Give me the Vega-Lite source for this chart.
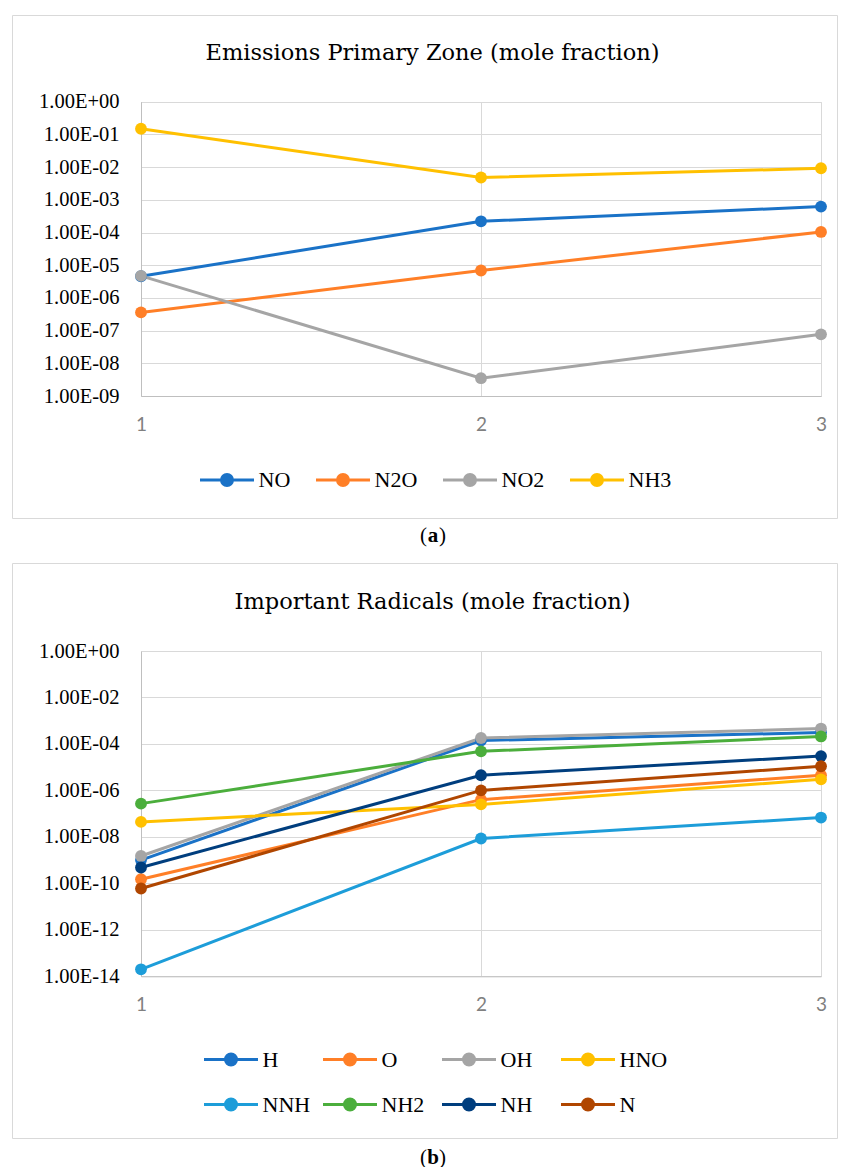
{
  "$schema": "https://vega.github.io/schema/vega-lite/v6.json",
  "padding": {"left": 11, "top": 14, "right": 0, "bottom": 0},
  "background": "white",
  "spacing": 0,
  "resolve": {"scale": {"stroke": "independent", "fill": "independent", "x": "independent", "y": "independent"}, "legend": {"stroke": "independent", "fill": "independent"}},
  "vconcat": [
    {
      "width": 825,
      "height": 503,
      "title": {"text": "Emissions Primary Zone (mole fraction)", "offset": -49, "dx": 8},
      "data": {"values": [
        {"series": "NO", "point": 1, "value": 4.6e-6},
        {"series": "NO", "point": 2, "value": 2.2e-4},
        {"series": "NO", "point": 3, "value": 6.2e-4},
        {"series": "N2O", "point": 1, "value": 3.6e-7},
        {"series": "N2O", "point": 2, "value": 6.9e-6},
        {"series": "N2O", "point": 3, "value": 1.04e-4},
        {"series": "NO2", "point": 1, "value": 4.7e-6},
        {"series": "NO2", "point": 2, "value": 3.5e-9},
        {"series": "NO2", "point": 3, "value": 7.7e-8},
        {"series": "NH3", "point": 1, "value": 0.149},
        {"series": "NH3", "point": 2, "value": 4.8e-3},
        {"series": "NH3", "point": 3, "value": 9.2e-3}
      ]},
      "resolve": {"axis": {"x": "independent"}},
      "encoding": {
        "y": {"field": "value", "type": "quantitative",
          "scale": {"type": "log", "domain": [1e-9, 1], "range": [381, 86.7], "nice": false},
          "axis": {"values": [1e-9, 1e-8, 1e-7, 1e-6, 1e-5, 1e-4, 1e-3, 1e-2, 1e-1, 1], "tickCount": 20, "offset": -129, "orient": "left"}}
      },
      "layer": [
        {"mark": {"type": "line", "strokeWidth": 3, "opacity": 1},
         "encoding": {
           "x": {"field": "point", "type": "ordinal",
             "scale": {"type": "point", "domain": [1, 2, 3], "range": [129, 809], "padding": 0},
             "axis": {"orient": "bottom", "offset": -122, "labelAngle": 0, "grid": false}},
           "stroke": {"field": "series", "type": "nominal", "sort": null,
           "scale": {"domain": ["NO", "N2O", "NO2", "NH3"], "range": ["#1A72C7", "#FF7F27", "#A5A5A5", "#FFC000"]},
           "legend": {"orient": "none", "legendX": 188, "legendY": 451.5, "direction": "horizontal", "columns": 4, "columnPadding": 19}}}},
        {"mark": {"type": "point", "filled": true, "size": 140, "opacity": 1},
         "encoding": {
           "x": {"field": "point", "type": "ordinal",
             "scale": {"type": "point", "domain": [1, 2, 3], "range": [129, 809], "padding": 0},
             "axis": {"orient": "top", "offset": -86.7, "labels": false, "domain": false, "ticks": false, "grid": true}},
           "fill": {"field": "series", "type": "nominal", "sort": null,
           "scale": {"domain": ["NO", "N2O", "NO2", "NH3"], "range": ["#1A72C7", "#FF7F27", "#A5A5A5", "#FFC000"]},
           "legend": {"orient": "none", "legendX": 188, "legendY": 451.5, "direction": "horizontal", "columns": 4, "columnPadding": 19}}}}
      ]
    },
    {
      "width": 825,
      "height": 43,
      "view": {"stroke": null},
      "data": {"values": [{"open": "(", "letter": "a", "close": ")"}]},
      "layer": [
        {"mark": {"type": "text", "align": "right", "dx": 2.5, "dy": -5, "fontWeight": "normal"}, "encoding": {"text": {"field": "open"}}},
        {"mark": {"type": "text", "align": "center", "dx": 8.5, "dy": -5, "fontWeight": "bold"}, "encoding": {"text": {"field": "letter"}}},
        {"mark": {"type": "text", "align": "left", "dx": 14.5, "dy": -5, "fontWeight": "normal"}, "encoding": {"text": {"field": "close"}}}
      ]
    },
    {
      "width": 825,
      "height": 575,
      "title": {"text": "Important Radicals (mole fraction)", "offset": -50, "dx": 8},
      "data": {"values": [
        {"series": "H", "point": 1, "value": 1.0e-9},
        {"series": "H", "point": 2, "value": 1.4e-4},
        {"series": "H", "point": 3, "value": 3.1e-4},
        {"series": "O", "point": 1, "value": 1.5e-10},
        {"series": "O", "point": 2, "value": 4.0e-7},
        {"series": "O", "point": 3, "value": 4.5e-6},
        {"series": "OH", "point": 1, "value": 1.5e-9},
        {"series": "OH", "point": 2, "value": 1.8e-4},
        {"series": "OH", "point": 3, "value": 4.6e-4},
        {"series": "HNO", "point": 1, "value": 4.4e-8},
        {"series": "HNO", "point": 2, "value": 2.5e-7},
        {"series": "HNO", "point": 3, "value": 3.0e-6},
        {"series": "NNH", "point": 1, "value": 2.0e-14},
        {"series": "NNH", "point": 2, "value": 8.5e-9},
        {"series": "NNH", "point": 3, "value": 6.8e-8},
        {"series": "NH2", "point": 1, "value": 2.7e-7},
        {"series": "NH2", "point": 2, "value": 4.8e-5},
        {"series": "NH2", "point": 3, "value": 2.1e-4},
        {"series": "NH", "point": 1, "value": 4.8e-10},
        {"series": "NH", "point": 2, "value": 4.5e-6},
        {"series": "NH", "point": 3, "value": 3.0e-5},
        {"series": "N", "point": 1, "value": 6.0e-11},
        {"series": "N", "point": 2, "value": 1.0e-6},
        {"series": "N", "point": 3, "value": 1.1e-5}
      ]},
      "resolve": {"axis": {"x": "independent"}},
      "encoding": {
        "y": {"field": "value", "type": "quantitative",
          "scale": {"type": "log", "domain": [1e-14, 1], "range": [413.3, 88], "nice": false},
          "axis": {"values": [1e-14, 1e-12, 1e-10, 1e-8, 1e-6, 1e-4, 1e-2, 1], "tickCount": 20, "offset": -129, "orient": "left"}}
      },
      "layer": [
        {"mark": {"type": "line", "strokeWidth": 3, "opacity": 1},
         "encoding": {
           "x": {"field": "point", "type": "ordinal",
             "scale": {"type": "point", "domain": [1, 2, 3], "range": [129, 809], "padding": 0},
             "axis": {"orient": "bottom", "offset": -161.7, "labelAngle": 0, "grid": false}},
           "stroke": {"field": "series", "type": "nominal", "sort": null,
           "scale": {"domain": ["H", "O", "OH", "HNO", "NNH", "NH2", "NH", "N"], "range": ["#1A72C7", "#FF7F27", "#A5A5A5", "#FFC000", "#1D9DD9", "#4BAE3C", "#003E7E", "#B04600"]},
           "legend": {"orient": "none", "legendX": 192, "legendY": 483, "direction": "horizontal", "columns": 4, "columnPadding": 6, "rowPadding": 20, "gridAlign": "all"}}}},
        {"mark": {"type": "point", "filled": true, "size": 140, "opacity": 1},
         "encoding": {
           "x": {"field": "point", "type": "ordinal",
             "scale": {"type": "point", "domain": [1, 2, 3], "range": [129, 809], "padding": 0},
             "axis": {"orient": "top", "offset": -88, "labels": false, "domain": false, "ticks": false, "grid": true}},
           "fill": {"field": "series", "type": "nominal", "sort": null,
           "scale": {"domain": ["H", "O", "OH", "HNO", "NNH", "NH2", "NH", "N"], "range": ["#1A72C7", "#FF7F27", "#A5A5A5", "#FFC000", "#1D9DD9", "#4BAE3C", "#003E7E", "#B04600"]},
           "legend": {"orient": "none", "legendX": 192, "legendY": 483, "direction": "horizontal", "columns": 4, "columnPadding": 6, "rowPadding": 20, "gridAlign": "all"}}}}
      ]
    },
    {
      "width": 825,
      "height": 38,
      "view": {"stroke": null},
      "data": {"values": [{"open": "(", "letter": "b", "close": ")"}]},
      "layer": [
        {"mark": {"type": "text", "align": "right", "dx": 2.5, "dy": 0, "fontWeight": "normal"}, "encoding": {"text": {"field": "open"}}},
        {"mark": {"type": "text", "align": "center", "dx": 8.5, "dy": 0, "fontWeight": "bold"}, "encoding": {"text": {"field": "letter"}}},
        {"mark": {"type": "text", "align": "left", "dx": 14.5, "dy": 0, "fontWeight": "normal"}, "encoding": {"text": {"field": "close"}}}
      ]
    }
  ],
  "config": {
    "view": {"stroke": "#D9D9D9", "strokeWidth": 1},
    "font": "Liberation Serif",
    "text": {"font": "Liberation Serif", "fontSize": 21, "color": "#000000"},
    "title": {"font": "DejaVu Serif", "fontSize": 22.5, "fontWeight": "normal", "color": "#000000", "anchor": "middle", "frame": "group"},
    "axisX": {"gridColor": "#D9D9D9", "gridWidth": 1, "domainColor": "#BFBFBF", "domainWidth": 1, "ticks": false, "title": null, "labelFont": "Lato", "labelFontSize": 19, "labelColor": "#808080", "labelPadding": 19, "labelFlush": false, "labelOverlap": false, "zindex": 0},
    "axisY": {"grid": true, "gridColor": "#D9D9D9", "gridWidth": 1, "domainColor": "#BFBFBF", "domainWidth": 1, "ticks": false, "title": null, "labelFont": "Liberation Serif", "labelFontSize": 20.5, "labelColor": "#000000", "labelPadding": 22, "labelOverlap": false, "zindex": 0,
      "labelExpr": "'1.00E' + (round(log(datum.value)/LN10) < 0 ? '-' : '+') + (abs(round(log(datum.value)/LN10)) < 10 ? '0' : '') + abs(round(log(datum.value)/LN10))"},
    "legend": {"title": null, "symbolType": "M-2.25,0L2.25,0M0.458,0A0.458,0.458,0,1,1,-0.458,0A0.458,0.458,0,1,1,0.458,0Z", "symbolSize": 576, "symbolStrokeWidth": 3, "symbolOffset": 13.5, "labelOffset": 18, "labelFont": "Liberation Serif", "labelFontSize": 22, "labelColor": "#000000", "padding": 0, "symbolOpacity": 1}
  }
}
